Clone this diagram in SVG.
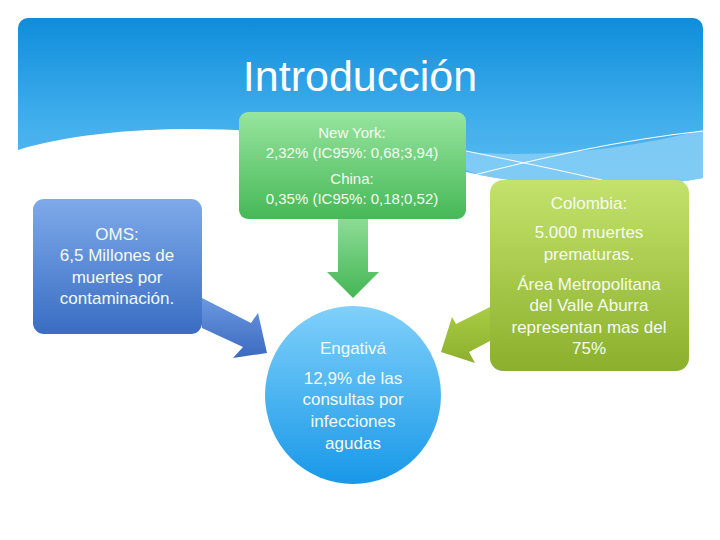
<svg xmlns="http://www.w3.org/2000/svg" width="720" height="540" viewBox="0 0 720 540">
<defs>
<linearGradient id="gSky" x1="0" y1="0" x2="0" y2="1">
<stop offset="0" stop-color="#0f8ddb"/><stop offset="0.6" stop-color="#40aeec"/><stop offset="1" stop-color="#5cbcf0"/>
</linearGradient>
<linearGradient id="gGreen" x1="0" y1="0" x2="0" y2="1">
<stop offset="0" stop-color="#97e59e"/><stop offset="1" stop-color="#46b857"/>
</linearGradient>
<linearGradient id="gGreenArrow" x1="0" y1="0" x2="0" y2="1">
<stop offset="0" stop-color="#8edc96"/><stop offset="1" stop-color="#44b654"/>
</linearGradient>
<linearGradient id="gBlue" x1="0" y1="0" x2="0" y2="1">
<stop offset="0" stop-color="#7eaaea"/><stop offset="1" stop-color="#3a6dc3"/>
</linearGradient>
<linearGradient id="gBlueArrow" x1="0" y1="0" x2="0" y2="1">
<stop offset="0" stop-color="#6a98e0"/><stop offset="1" stop-color="#3c6ac0"/>
</linearGradient>
<linearGradient id="gSkyBall" x1="0" y1="0" x2="0" y2="1">
<stop offset="0" stop-color="#80d0fa"/><stop offset="1" stop-color="#1898e8"/>
</linearGradient>
<linearGradient id="gOlive" x1="0" y1="0" x2="0" y2="1">
<stop offset="0" stop-color="#c4e26c"/><stop offset="1" stop-color="#8bb02c"/>
</linearGradient>
<linearGradient id="gOliveArrow" x1="0" y1="0" x2="0" y2="1">
<stop offset="0" stop-color="#a8cc44"/><stop offset="1" stop-color="#8cb02e"/>
</linearGradient>
</defs>
<style>
.t{font-family:"Liberation Sans",Arial,sans-serif;fill:#f4faf2;text-anchor:middle}
.s15{font-size:15px}
.s17{font-size:17px}
.wl{fill:none;stroke:#ffffff;stroke-width:1}
</style>
<rect x="0" y="0" width="720" height="540" fill="#ffffff"/>
<g id="background">
<path d="M28,18 H693 A10,10 0 0 1 703,28 V178 C640,190 560,190 480,175 C430,165 380,145 300,135 C200,124 90,128 18,150 V28 A10,10 0 0 1 28,18 Z" fill="url(#gSky)"/>
<path d="M440,150 C540,160 620,150 703,130 V178 C640,190 560,190 480,175 C465,170 452,165 440,160 Z" fill="#8ad0f6" opacity="0.8"/>
<path class="wl" d="M228,139 C240,137 250,136 260,136"/>
<path class="wl" d="M466,151 C510,160 560,170 610,182"/>
<path class="wl" d="M466,177 C540,158 620,140 703,131"/>
<text x="360" y="91" font-family="Liberation Sans,Arial,sans-serif" font-size="43" fill="#ffffff" text-anchor="middle">Introducción</text>
</g>
<g id="connectors">
<polygon points="202,298 251,323 258,313 267,353 233,358 243,347 202,328" fill="url(#gBlueArrow)"/>
<polygon points="490,307 456,324 452,317 441,352 475,363 469,352 490,341" fill="url(#gOliveArrow)"/>
<polygon points="338,218 368,218 368,272 379,272 353,298 327,272 338,272" fill="url(#gGreenArrow)"/>
</g>
<g id="node-nyc-china">
<rect x="239" y="112" width="227" height="107" rx="9" fill="url(#gGreen)"/>
<text class="t s15" x="352" y="138">New York:</text>
<text class="t s15" x="352" y="158">2,32% (IC95%: 0,68;3,94)</text>
<text class="t s15" x="352" y="184">China:</text>
<text class="t s15" x="352" y="204">0,35% (IC95%: 0,18;0,52)</text>
</g>
<g id="node-oms">
<rect x="33" y="199" width="169" height="135" rx="11" fill="url(#gBlue)"/>
<text class="t s17" x="117" y="240">OMS:</text>
<text class="t s17" x="117" y="261">6,5 Millones de</text>
<text class="t s17" x="117" y="283">muertes por</text>
<text class="t s17" x="117" y="304">contaminación.</text>
</g>
<g id="node-engativa">
<ellipse cx="353" cy="395" rx="88" ry="89" fill="url(#gSkyBall)"/>
<text class="t s17" x="353" y="354">Engativá</text>
<text class="t s17" x="353" y="384">12,9% de las</text>
<text class="t s17" x="353" y="405">consultas por</text>
<text class="t s17" x="353" y="427">infecciones</text>
<text class="t s17" x="353" y="449">agudas</text>
</g>
<g id="node-colombia">
<rect x="490" y="180" width="199" height="191" rx="13" fill="url(#gOlive)"/>
<text class="t s17" x="589" y="209">Colombia:</text>
<text class="t s17" x="589" y="238">5.000 muertes</text>
<text class="t s17" x="589" y="260">prematuras.</text>
<text class="t s17" x="589" y="290">Área Metropolitana</text>
<text class="t s17" x="589" y="311">del Valle Aburra</text>
<text class="t s17" x="589" y="333">representan mas del</text>
<text class="t s17" x="589" y="354">75%</text>
</g>
</svg>
